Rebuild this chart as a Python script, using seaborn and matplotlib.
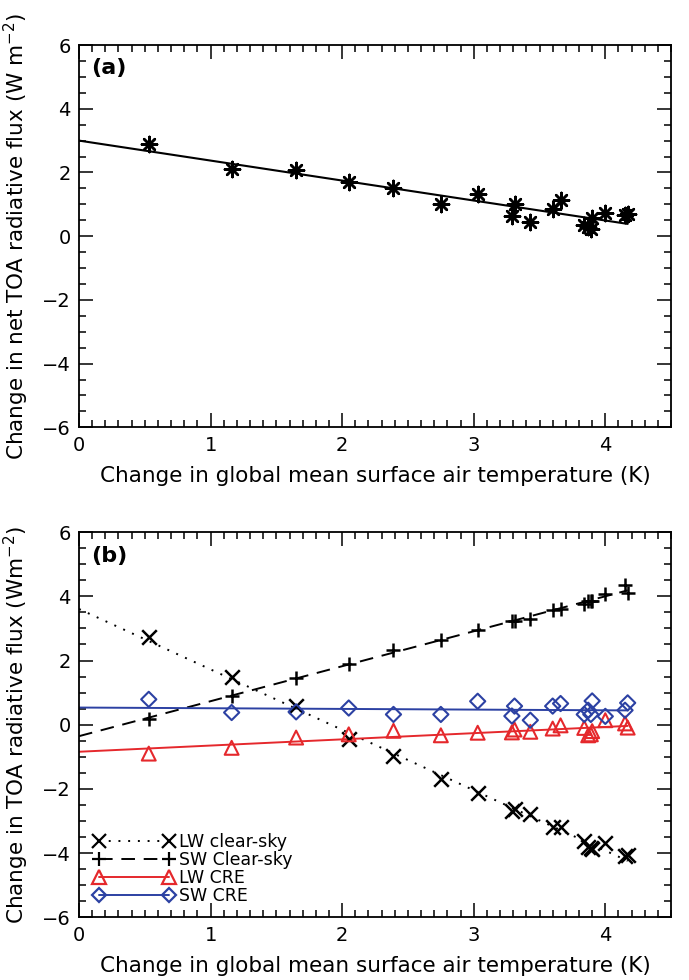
import numpy as np
import pandas as pd
import seaborn as sns
import matplotlib.pyplot as plt
from matplotlib.lines import Line2D
from matplotlib.ticker import MultipleLocator

# Datos (una entrada por modelo)
dT = [0.53, 1.16, 1.65, 2.05, 2.39, 2.75, 3.03, 3.29, 3.31, 3.43,
      3.60, 3.66, 3.84, 3.87, 3.89, 3.90, 4.00, 4.15, 4.17]
net_toa = [2.89, 2.10, 2.08, 1.71, 1.51, 1.00, 1.32, 0.63, 1.00, 0.43,
           0.85, 1.15, 0.35, 0.30, 0.24, 0.56, 0.73, 0.66, 0.71]
lw_clear = [2.72, 1.49, 0.59, -0.45, -0.97, -1.68, -2.13, -2.70, -2.64, -2.77,
            -3.20, -3.19, -3.63, -3.81, -3.84, -3.86, -3.70, -4.10, -4.05]
sw_clear = [0.19, 0.90, 1.47, 1.89, 2.32, 2.65, 2.95, 3.23, 3.23, 3.28,
            3.57, 3.62, 3.75, 3.86, 3.85, 3.86, 4.06, 4.35, 4.11]
lw_cre = [-0.90, -0.72, -0.40, -0.30, -0.19, -0.33, -0.25, -0.24, -0.15, -0.22,
          -0.12, -0.02, -0.10, -0.33, -0.30, -0.20, 0.14, 0.04, -0.09]
sw_cre = [0.79, 0.38, 0.40, 0.52, 0.32, 0.32, 0.73, 0.27, 0.58, 0.14,
          0.58, 0.66, 0.32, 0.45, 0.32, 0.74, 0.26, 0.45, 0.68]

legend_labels = ['LW clear-sky', 'SW Clear-sky', 'LW CRE', 'SW CRE']

RED = '#e5282c'
BLUE = '#2c41a3'

sns.set_style('ticks')
plt.rcParams['font.family'] = ['DejaVu Sans']
plt.rcParams['text.color'] = 'black'
plt.rcParams['axes.labelcolor'] = 'black'
plt.rcParams['xtick.color'] = 'black'
plt.rcParams['ytick.color'] = 'black'

fig = plt.figure(figsize=(6.89, 9.8), dpi=100)
ax_a = fig.add_axes([0.1147, 0.564, 0.8593, 0.39])
ax_b = fig.add_axes([0.1147, 0.064, 0.8593, 0.393])


def fit_line(ax, x, y, **kw):
    # recta de regresion desde 0 hasta el maximo de x
    k, b = np.polyfit(x, y, 1)
    xx = np.array([0.0, max(x)])
    sns.lineplot(x=xx, y=k * xx + b, ax=ax, **kw)


def style_axes(ax, ylabel, tag):
    ax.set_xlim(0, 4.5)
    ax.set_ylim(-6, 6)
    ax.xaxis.set_major_locator(MultipleLocator(1))
    ax.xaxis.set_minor_locator(MultipleLocator(0.1))
    ax.yaxis.set_major_locator(MultipleLocator(2))
    ax.yaxis.set_minor_locator(MultipleLocator(0.5))
    ax.tick_params(which='both', direction='in', top=True, right=True,
                   labelsize=14, width=1.1, color='black')
    ax.tick_params(which='major', length=10, pad=6)
    ax.tick_params(which='minor', length=5)
    for s in ax.spines.values():
        s.set_linewidth(1.3)
        s.set_color('black')
    ax.set_xticks([0, 1, 2, 3, 4])
    ax.set_xticklabels(['0', '1', '2', '3', '4'])
    ax.set_xlabel('Change in global mean surface air temperature (K)',
                  fontsize=15.5, labelpad=8)
    ax.set_ylabel(ylabel, fontsize=15.5, labelpad=8)
    ax.text(0.02, 0.965, tag, transform=ax.transAxes, fontsize=16,
            fontweight='bold', va='top', ha='left')


# ==== Panel (a) ====
fit_line(ax_a, dT, net_toa, color='black', linewidth=1.5)
sns.scatterplot(x=dT, y=net_toa, ax=ax_a, marker=(8, 2, 0), s=120,
                color='black', linewidth=1.8, zorder=3)
style_axes(ax_a, 'Change in net TOA radiative flux (W m$^{-2}$)', '(a)')

# ==== Panel (b) ====
series = [
    (lw_clear, 'x', 'black', (0, (1, 4)), 'none'),
    (sw_clear, '+', 'black', (0, (7, 4.5)), 'none'),
    (lw_cre, '^', RED, '-', 'none'),
    (sw_cre, 'D', BLUE, '-', 'none'),
]
handles = []
for vals, mk, col, ls, fc in series:
    fit_line(ax_b, dT, vals, color=col, linewidth=1.4, linestyle=ls)
    if mk in ('x', '+'):
        sns.scatterplot(x=dT, y=vals, ax=ax_b, marker=mk, s=110, color=col,
                        linewidth=1.8, zorder=3)
    else:
        sns.scatterplot(x=dT, y=vals, ax=ax_b, marker=mk, s=100 if mk == '^' else 60,
                        facecolor='none', edgecolor=col, linewidth=1.5, zorder=3)
    handles.append(Line2D([], [], color=col, linestyle=ls, linewidth=1.4,
                          marker=mk, markersize=10 if mk != 'D' else 7.5,
                          markerfacecolor='none', markeredgecolor=col,
                          markeredgewidth=1.6))

style_axes(ax_b, 'Change in TOA radiative flux (Wm$^{-2}$)', '(b)')
ax_b.legend(handles, legend_labels, loc='lower left', frameon=False,
            numpoints=2, handlelength=4.6, handletextpad=0.3,
            labelspacing=0.0, fontsize=12.5, borderaxespad=0.3,
            bbox_to_anchor=(0.005, 0.0))

fig.savefig('out.png', dpi=100)
